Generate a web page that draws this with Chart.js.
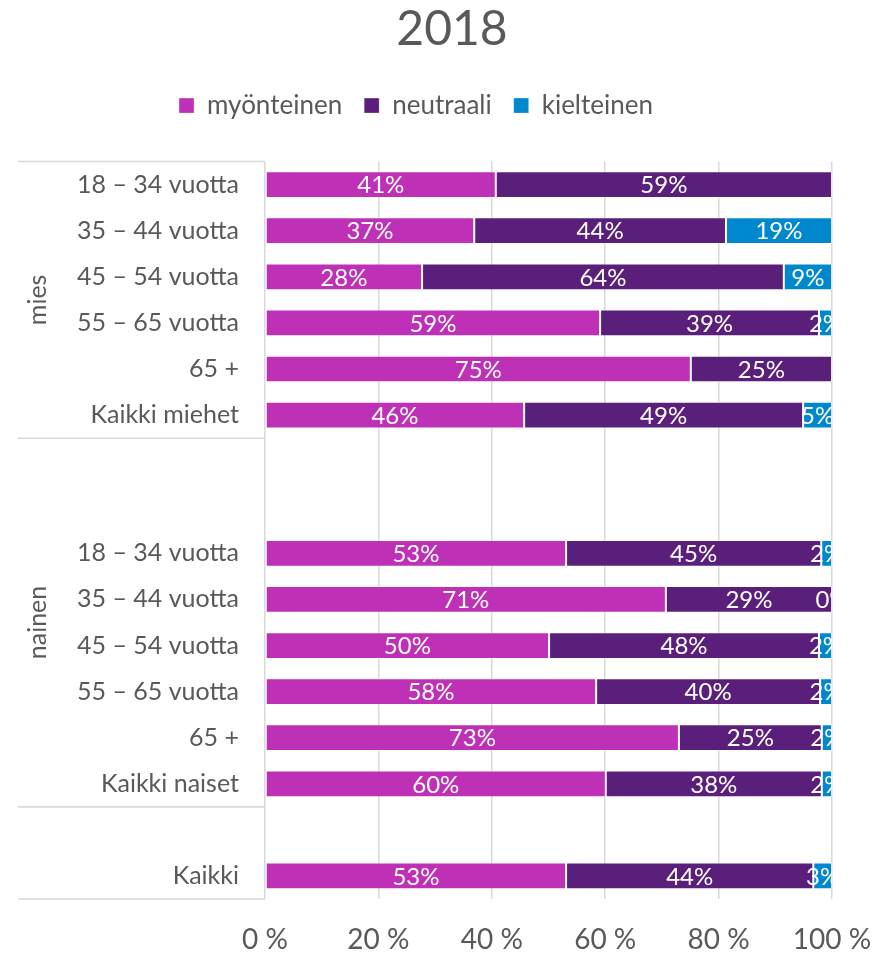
<!DOCTYPE html>
<html>
<head>
<meta charset="utf-8">
<script src="https://cdn.jsdelivr.net/npm/chart.js@4/dist/chart.umd.min.js"></script>
<style>
html,body{margin:0;padding:0;background:#fff;}
#wrap{width:889px;height:955px;}
</style>
</head>
<body>
<div id="wrap"><canvas id="c" width="889" height="955"></canvas></div>
<script>
const categories = ['18 – 34 vuotta','35 – 44 vuotta','45 – 54 vuotta','55 – 65 vuotta','65 +','Kaikki miehet','','','18 – 34 vuotta','35 – 44 vuotta','45 – 54 vuotta','55 – 65 vuotta','65 +','Kaikki naiset','','Kaikki'];
const groups = [{label:'mies', from:0, to:5},{label:'nainen', from:6, to:13},{label:'', from:14, to:15}];
const seriesNames = ['myönteinen','neutraali','kielteinen'];
const myonteinen = [40.7, 36.9, 27.7, 59.1, 75.1, 45.7, null, null, 53.1, 70.7, 50.1, 58.4, 73.0, 60.1, null, 53.1];
const neutraali  = [59.3, 44.4, 63.8, 38.6, 24.9, 49.2, null, null, 45.0, 29.3, 47.6, 39.5, 25.2, 38.1, null, 43.6];
const kielteinen = [null, 18.7, 8.5, 2.3, null, 5.1, null, null, 1.9, 0, 2.3, 2.1, 1.8, 1.8, null, 3.3];
const xTicks = [0, 20, 40, 60, 80, 100];
const colors = ['#BE31B7', '#5A1F7A', '#0088CF'];

const FONT = 'Lato, "Open Sans", sans-serif';
const GREY = '#595959';
const LINE = '#D9D9D9';

const dataLabels = {
  id: 'dataLabels',
  afterDatasetsDraw(chart) {
    const ctx = chart.ctx, a = chart.chartArea;
    ctx.save();
    ctx.beginPath();
    ctx.rect(a.left, a.top, a.right - a.left, a.bottom - a.top);
    ctx.clip();
    ctx.font = '24px ' + FONT;
    ctx.fillStyle = '#ffffff';
    ctx.textAlign = 'center';
    ctx.textBaseline = 'middle';
    chart.data.datasets.forEach((ds, di) => {
      const meta = chart.getDatasetMeta(di);
      meta.data.forEach((el, i) => {
        const v = ds.data[i];
        if (v === null || v === undefined) return;
        const cx = (el.x + el.base) / 2;
        ctx.fillText(Math.round(v) + '%', cx, el.y + 1);
      });
    });
    ctx.restore();
  }
};

const groupAxis = {
  id: 'groupAxis',
  beforeInit(chart) {
    const lg = chart.legend;
    if (lg) {
      const orig = lg.fit;
      lg.fit = function () { orig.call(this); this.height += 33; };
    }
  },
  afterLayout(chart) {
    const t = chart.titleBlock;
    if (t) { t.left += 36; t.right += 36; }
  },
  afterDraw(chart) {
    const ctx = chart.ctx, y = chart.scales.y, a = chart.chartArea;
    const n = categories.length;
    const rowH = (a.bottom - a.top) / n;
    ctx.save();
    ctx.strokeStyle = LINE;
    ctx.lineWidth = 1.5;
    const bounds = new Set();
    groups.forEach(g => {
      bounds.add(y.getPixelForValue(g.from) - rowH / 2);
      bounds.add(y.getPixelForValue(g.to) + rowH / 2);
    });
    bounds.forEach(b => {
      ctx.beginPath();
      ctx.moveTo(18, b);
      ctx.lineTo(a.left, b);
      ctx.stroke();
    });
    ctx.fillStyle = GREY;
    ctx.font = '25px ' + FONT;
    ctx.textAlign = 'center';
    ctx.textBaseline = 'middle';
    groups.forEach(g => {
      if (!g.label) return;
      const top = y.getPixelForValue(g.from) - rowH / 2;
      const bot = y.getPixelForValue(g.to) + rowH / 2;
      ctx.save();
      ctx.translate(38, (top + bot) / 2);
      ctx.rotate(-Math.PI / 2);
      ctx.fillText(g.label, 0, 0);
      ctx.restore();
    });
    ctx.restore();
  }
};

new Chart(document.getElementById('c'), {
  type: 'bar',
  data: {
    labels: categories,
    datasets: [myonteinen, neutraali, kielteinen].map((d, i) => ({
      label: seriesNames[i],
      data: d,
      backgroundColor: colors[i],
      borderColor: 'rgba(255,255,255,0.3)',
      borderWidth: 1,
      borderSkipped: false,
      barPercentage: 0.58,
      categoryPercentage: 1.0
    }))
  },
  options: {
    indexAxis: 'y',
    responsive: false,
    animation: false,
    events: [],
    layout: { padding: { left: 0, right: 57, top: 0, bottom: 0 } },
    plugins: {
      title: {
        display: true,
        text: '2018',
        color: GREY,
        font: { family: FONT, size: 48, weight: 'normal' },
        padding: { top: 1, bottom: 12 }
      },
      legend: {
        display: true,
        position: 'top',
        labels: {
          color: GREY,
          font: { family: FONT, size: 26 },
          boxWidth: 15,
          boxHeight: 15,
          padding: 22
        }
      },
      tooltip: { enabled: false }
    },
    scales: {
      x: {
        stacked: true,
        min: 0,
        max: 100,
        afterBuildTicks(scale) { scale.ticks = xTicks.map(v => ({ value: v })); },
        grid: { color: LINE, lineWidth: 1.5, drawTicks: false },
        border: { display: false },
        ticks: {
          color: GREY,
          font: { family: FONT, size: 28 },
          padding: 24,
          maxRotation: 0,
          callback: v => v + ' %'
        },
        afterFit(scale) { scale.height = 56; scale.paddingRight = 0; scale.paddingLeft = 0; }
      },
      y: {
        stacked: true,
        grid: { display: false, drawTicks: false },
        border: { display: false },
        ticks: {
          color: GREY,
          font: { family: FONT, size: 25 },
          padding: 26,
          autoSkip: false
        },
        afterFit(scale) { scale.width = 265; }
      }
    }
  },
  plugins: [dataLabels, groupAxis]
});
</script>
</body>
</html>
